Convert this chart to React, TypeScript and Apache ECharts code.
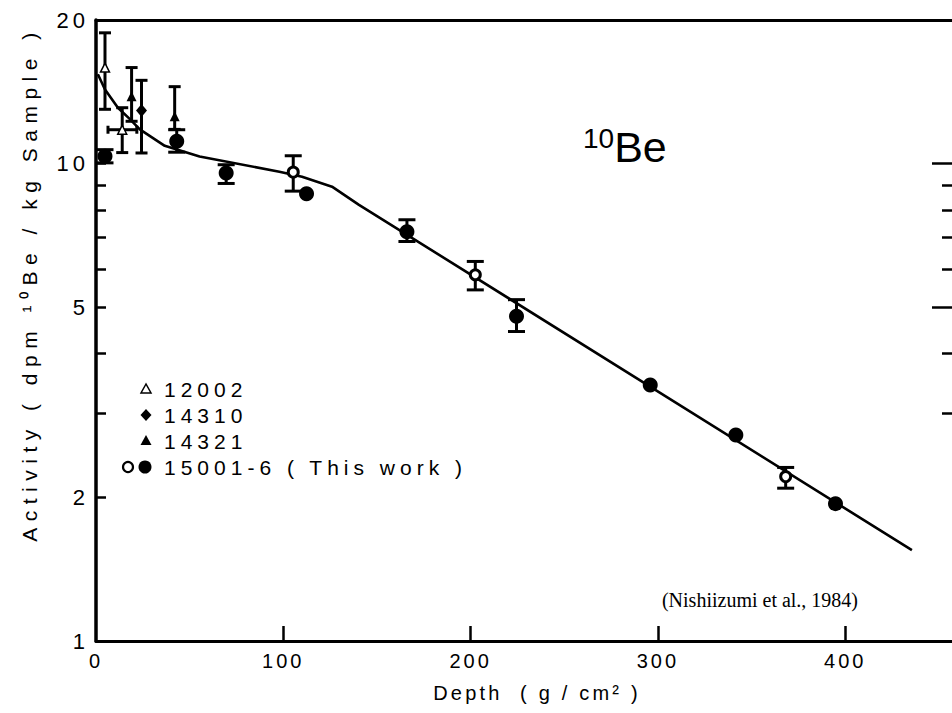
import React, { useEffect, useRef } from "react";
import * as echarts from "echarts";

const FONT = '"Liberation Sans", Arial, Helvetica, sans-serif';
const SERIF = '"Liberation Serif", "Times New Roman", serif';

// Axis ticks / labels
const depthLabels = [0, 100, 200, 300, 400];
const depthTicks = [100, 200, 300, 400];
const activityLabels = [1, 2, 5, 10, 20];
const activityTicks = [2, 3, 4, 5, 6, 7, 8, 9, 10];
const rightMajorTicks = [5, 10];
const rightMinorTicks = [3, 4, 6, 7, 8, 9];

// 15001-6 (This work) – filled circles
const filledDepth = [4.8, 43.1, 69.5, 112.4, 166, 224.5, 295.9, 341.6, 394.8];
const filledAct = [10.36, 11.14, 9.56, 8.65, 7.2, 4.79, 3.44, 2.7, 1.94];
const filledLow = [10.04, 10.57, 9.09, null, 6.87, 4.45, null, null, null];
const filledHigh = [10.7, 11.78, 9.95, null, 7.63, 5.19, null, null, null];

// 15001-6 (This work) – open circles
const openDepth = [105.3, 202.5, 368.2];
const openAct = [9.6, 5.85, 2.21];
const openLow = [8.76, 5.44, 2.09];
const openHigh = [10.39, 6.24, 2.31];

// 12002 – open triangles
const s12002Depth = [4.8, 14];
const s12002Act = [15.9, 11.78];
const s12002Low = [13.0, 10.55];
const s12002High = [18.8, 13.1];
const s12002DepthLow = [null, 6.4];
const s12002DepthHigh = [null, 21.8];

// 14310 – diamonds
const s14310Depth = [24.3];
const s14310Act = [12.93];
const s14310Low = [10.53];
const s14310High = [14.95];

// 14321 – filled triangles
const s14321Depth = [19.0, 42];
const s14321Act = [13.84, 12.57];
const s14321Low = [12.27, 11.8];
const s14321High = [15.9, 14.5];

// Model curve
const curveDepth = [1, 4.8, 11.7, 18.1, 23.4, 36.7, 55.3, 97.9, 110, 126, 140.4, 435.6];
const curveAct = [15.4, 14.3, 13.1, 12.4, 11.8, 10.9, 10.35, 9.62, 9.39, 8.95, 8.2, 1.55];

const zip = (a: number[], b: number[]) => a.map((v, i) => [v, b[i]]);
const vRows = (x: number[], lo: (number | null)[], hi: (number | null)[]) =>
  x.map((v, i) => [v, lo[i], hi[i]]).filter((r) => r[1] != null && r[2] != null);

const LINE = { stroke: "#000", lineWidth: 3 };

function vErrorSeries(rows: any[], capW: number) {
  return {
    type: "custom",
    silent: true,
    z: 3,
    data: rows,
    encode: { x: 0, y: [1, 2] },
    renderItem: (_p: any, api: any) => {
      const x = api.value(0);
      const a = api.coord([x, api.value(1)]);
      const b = api.coord([x, api.value(2)]);
      const h = capW / 2;
      return {
        type: "group",
        children: [
          { type: "line", shape: { x1: a[0], y1: a[1], x2: b[0], y2: b[1] }, style: LINE },
          { type: "line", shape: { x1: a[0] - h, y1: a[1], x2: a[0] + h, y2: a[1] }, style: LINE },
          { type: "line", shape: { x1: b[0] - h, y1: b[1], x2: b[0] + h, y2: b[1] }, style: LINE },
        ],
      };
    },
  };
}

function hErrorSeries(rows: any[], capH: number) {
  return {
    type: "custom",
    silent: true,
    z: 3,
    data: rows,
    encode: { x: [0, 1], y: 2 },
    renderItem: (_p: any, api: any) => {
      const y = api.value(2);
      const a = api.coord([api.value(0), y]);
      const b = api.coord([api.value(1), y]);
      const h = capH / 2;
      return {
        type: "group",
        children: [
          { type: "line", shape: { x1: a[0], y1: a[1], x2: b[0], y2: b[1] }, style: LINE },
          { type: "line", shape: { x1: a[0], y1: a[1] - h, x2: a[0], y2: a[1] + h }, style: LINE },
          { type: "line", shape: { x1: b[0], y1: b[1] - h, x2: b[0], y2: b[1] + h }, style: LINE },
        ],
      };
    },
  };
}

const legendRows = [
  { label: "12002", y: 389 },
  { label: "14310", y: 415 },
  { label: "14321", y: 441 },
  { label: "15001-6 ( This work )", y: 467 },
];

const spacing: Record<string, number> = {
  "12002": 5,
  "14310": 5,
  "14321": 5,
  "15001-6 ( This work )": 5,
  "Activity ( dpm ¹⁰Be / kg Sample )": 6.5,
  "Depth  ( g / cm² )": 3.2,
};
const X_LABEL_SPACING = 3;
const Y_LABEL_SPACING = 4;

export default function App() {
  const ref = useRef<HTMLDivElement>(null);
  useEffect(() => {
    const el = ref.current!;
    const chart = echarts.init(el, undefined, { renderer: "svg" });
    const tickStyle = { color: "#000", width: 2.5 };
    const gridBox = { left: 96, top: 20, right: -3, bottom: 72, containLabel: false };
    const logY = { type: "log", logBase: 10, min: 1, max: 20, splitLine: { show: false } };
    const hiddenX = {
      type: "value",
      min: 0,
      max: 457,
      show: false,
      splitLine: { show: false },
    };
    const option: any = {
      animation: false,
      backgroundColor: "#fff",
      grid: [gridBox, gridBox],
      xAxis: [
        {
          type: "value",
          gridIndex: 0,
          min: 0,
          max: 457,
          axisLine: { show: true, onZero: false, lineStyle: { color: "#000", width: 3 } },
          axisTick: { show: true, inside: true, length: 15, customValues: depthTicks, lineStyle: tickStyle },
          axisLabel: { customValues: depthLabels, color: "#000", fontSize: 20, fontFamily: FONT, margin: 10 },
          splitLine: { show: false },
        },
        {
          type: "value",
          gridIndex: 0,
          position: "top",
          min: 0,
          max: 457,
          axisLine: { show: true, onZero: false, lineStyle: { color: "#000", width: 3 } },
          axisTick: { show: false },
          axisLabel: { show: false },
          splitLine: { show: false },
        },
        { ...hiddenX, gridIndex: 1 },
      ],
      yAxis: [
        {
          ...logY,
          gridIndex: 0,
          position: "left",
          axisLine: { show: true, onZero: false, lineStyle: { color: "#000", width: 3.5 } },
          axisTick: { show: true, inside: true, length: 10, customValues: activityTicks, lineStyle: tickStyle },
          axisLabel: { customValues: activityLabels, color: "#000", fontSize: 22, fontFamily: FONT, margin: 7 },
        },
        {
          ...logY,
          gridIndex: 0,
          position: "right",
          axisLine: { show: false, onZero: false },
          axisTick: { show: true, inside: true, length: 20, customValues: rightMajorTicks, lineStyle: tickStyle },
          axisLabel: { show: false },
        },
        {
          ...logY,
          gridIndex: 1,
          position: "right",
          axisLine: { show: false, onZero: false },
          axisTick: { show: true, inside: true, length: 10, customValues: rightMinorTicks, lineStyle: tickStyle },
          axisLabel: { show: false },
        },
      ],
      series: [
        {
          type: "line",
          data: zip(curveDepth, curveAct),
          showSymbol: false,
          symbol: "none",
          lineStyle: { color: "#000", width: 2.6 },
          z: 1,
          silent: true,
        },
        vErrorSeries(vRows(filledDepth, filledLow, filledHigh), 17),
        vErrorSeries(vRows(openDepth, openLow, openHigh), 17),
        vErrorSeries(vRows(s12002Depth, s12002Low, s12002High), 12),
        hErrorSeries(
          s12002Depth
            .map((_, i) => [s12002DepthLow[i], s12002DepthHigh[i], s12002Act[i]])
            .filter((r) => r[0] != null),
          8
        ),
        vErrorSeries(vRows(s14310Depth, s14310Low, s14310High), 12),
        vErrorSeries(vRows(s14321Depth, s14321Low, s14321High), 12),
        {
          type: "scatter",
          data: zip(filledDepth, filledAct),
          symbol: "circle",
          symbolSize: 15,
          itemStyle: { color: "#000", opacity: 1 },
          z: 5,
        },
        {
          type: "scatter",
          data: zip(openDepth, openAct),
          symbol: "circle",
          symbolSize: 10,
          itemStyle: { color: "#fff", borderColor: "#000", borderWidth: 3, opacity: 1 },
          z: 5,
        },
        {
          type: "scatter",
          data: zip(s12002Depth, s12002Act),
          symbol: "triangle",
          symbolSize: 9,
          itemStyle: { color: "#fff", borderColor: "#000", borderWidth: 1.5, opacity: 1 },
          z: 5,
        },
        {
          type: "scatter",
          data: zip(s14310Depth, s14310Act),
          symbol: "diamond",
          symbolSize: [11, 13],
          itemStyle: { color: "#000", opacity: 1 },
          z: 5,
        },
        {
          type: "scatter",
          data: zip(s14321Depth, s14321Act),
          symbol: "triangle",
          symbolSize: 10,
          itemStyle: { color: "#000", opacity: 1 },
          z: 5,
        },
      ],
      graphic: [
        // legend markers
        {
          type: "polygon",
          shape: { points: [[146, 384], [141, 393], [151, 393]] },
          style: { fill: "#fff", stroke: "#000", lineWidth: 1.5 },
        },
        {
          type: "polygon",
          shape: { points: [[146, 409], [151.5, 415], [146, 421], [140.5, 415]] },
          style: { fill: "#000" },
        },
        {
          type: "polygon",
          shape: { points: [[146, 435], [140.5, 445], [151.5, 445]] },
          style: { fill: "#000" },
        },
        {
          type: "circle",
          shape: { cx: 128, cy: 467, r: 5 },
          style: { fill: "#fff", stroke: "#000", lineWidth: 2.2 },
        },
        {
          type: "circle",
          shape: { cx: 145, cy: 467, r: 6.5 },
          style: { fill: "#000" },
        },
        ...legendRows.map((r) => ({
          type: "text",
          style: {
            x: 164,
            y: r.y,
            text: r.label,
            fontSize: 21,
            fontFamily: FONT,
            fill: "#000",
            verticalAlign: "middle",
            align: "left",
          },
        })),
        {
          type: "text",
          x: 29,
          y: 284,
          rotation: Math.PI / 2,
          style: {
            x: 0,
            y: 0,
            text: "Activity ( dpm ¹⁰Be / kg Sample )",
            fontSize: 21,
            fontFamily: FONT,
            fill: "#000",
            align: "center",
            verticalAlign: "middle",
          },
        },
        {
          type: "text",
          style: {
            x: 537,
            y: 693,
            text: "Depth  ( g / cm² )",
            fontSize: 20,
            fontFamily: FONT,
            fill: "#000",
            align: "center",
            verticalAlign: "middle",
          },
        },
        {
          type: "text",
          style: {
            x: 583,
            y: 147,
            text: "{s|10}{b|Be}",
            align: "left",
            verticalAlign: "middle",
            fill: "#000",
            rich: {
              s: { fontSize: 28, fontFamily: FONT, verticalAlign: "top", fill: "#000" },
              b: { fontSize: 43, lineHeight: 46, fontFamily: FONT, fill: "#000" },
            },
          },
        },
        {
          type: "text",
          style: {
            x: 760,
            y: 600,
            text: "(Nishiizumi et al., 1984)",
            fontSize: 20,
            fontFamily: SERIF,
            fill: "#000",
            align: "center",
            verticalAlign: "middle",
          },
        },
      ],
    };
    const xLabelSet = new Set(depthLabels.map(String));
    const yLabelSet = new Set(activityLabels.map(String));
    const applySpacing = () => {
      el.querySelectorAll("text").forEach((n) => {
        const t = n.textContent || "";
        const anchor = n.getAttribute("text-anchor") || "";
        let s: number | undefined = spacing[t];
        if (s == null && anchor === "end" && yLabelSet.has(t)) s = Y_LABEL_SPACING;
        if (s == null && anchor === "middle" && xLabelSet.has(t)) s = X_LABEL_SPACING;
        if (s != null) (n as any).style.letterSpacing = s + "px";
      });
    };
    chart.on("finished", applySpacing);
    chart.setOption(option);
    applySpacing();
    return () => {
      chart.dispose();
    };
  }, []);
  return (
    <div
      ref={ref}
      style={{ position: "absolute", left: 0, top: 0, width: 952, height: 713, background: "#fff" }}
    />
  );
}
